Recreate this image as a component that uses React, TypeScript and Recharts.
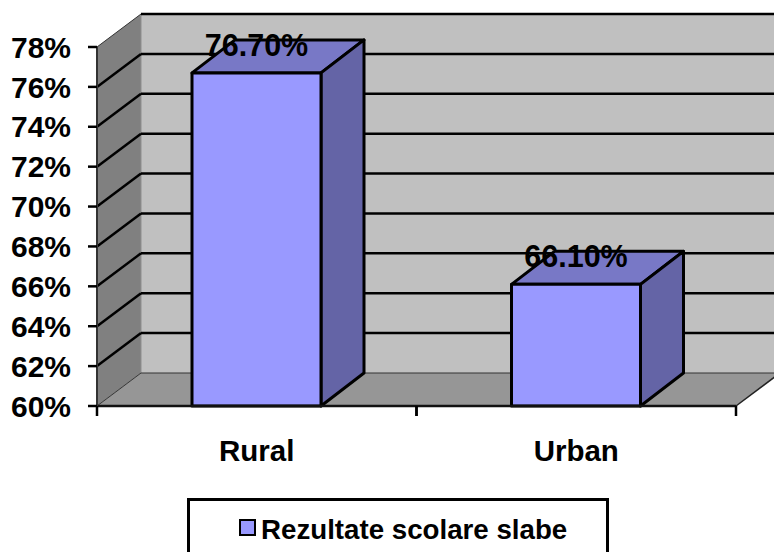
import { Bar, BarChart, CartesianGrid, LabelList, Legend, XAxis, YAxis, usePlotArea } from "recharts";

const categories = ["Rural", "Urban"];
const seriesName = "Rezultate scolare slabe";
const seriesValues = [76.7, 66.1];
const yTicks = [60, 62, 64, 66, 68, 70, 72, 74, 76, 78];

const data = categories.map((name, i) => ({ name, value: seriesValues[i] }));

const FONT = "'Liberation Sans', Arial, sans-serif";
const DX = 44;
const DY = 33;
const BAR_DX = 43;
const PLOT_LEFT = 97;
const PLOT_RIGHT = 736;
const BAND = (PLOT_RIGHT - PLOT_LEFT) / categories.length;

// back wall, side wall and floor of the 3D box
const Walls = () => {
  const plot = usePlotArea();
  if (!plot) return null;
  const l = plot.x;
  const r = plot.x + plot.width;
  const t = plot.y;
  const b = plot.y + plot.height;
  return (
    <g>
      <polygon points={`${l + DX},${t - DY} ${r + DX},${t - DY} ${r + DX},${b - DY} ${l + DX},${b - DY}`} fill="#c0c0c0" />
      <polygon points={`${l},${t} ${l + DX},${t - DY} ${l + DX},${b - DY} ${l},${b}`} fill="#808080" />
      <polygon points={`${l},${b} ${l + DX},${b - DY} ${r + DX},${b - DY} ${r},${b}`} fill="#969696" />
      <line x1={l + DX} y1={t - DY} x2={l + DX} y2={b - DY} stroke="#8e8e8e" strokeWidth={1} />
      <line x1={r} y1={b} x2={r + DX} y2={b - DY} stroke="#222" strokeWidth={1.5} />
    </g>
  );
};

// grid line runs up the side wall and across the back wall
const GridLine = (props: any) => {
  const { x1, x2, y1 } = props;
  const edge = Math.abs(y1 - 47) < 1 || Math.abs(y1 - 406) < 1;
  const isBottom = Math.abs(y1 - 406) < 1;
  return (
    <g>
      <line x1={x1} y1={y1} x2={x1 + DX} y2={y1 - DY} stroke={edge ? "#333" : "#000"} strokeWidth={edge ? 1 : 2.5} />
      <line
        x1={x1 + DX}
        y1={y1 - DY}
        x2={x2 + DX}
        y2={y1 - DY}
        stroke={isBottom ? "#333" : "#000"}
        strokeWidth={isBottom ? 1 : 2.5}
      />
    </g>
  );
};

const Bar3D = (props: any) => {
  const { x, y, width, height } = props;
  const right = x + width;
  const bottom = y + height;
  return (
    <g stroke="#000" strokeWidth={3} strokeLinejoin="round">
      <polygon points={`${x},${y} ${x + BAR_DX},${y - DY} ${right + BAR_DX},${y - DY} ${right},${y}`} fill="#7878c6" />
      <polygon points={`${right},${y} ${right + BAR_DX},${y - DY} ${right + BAR_DX},${bottom - DY} ${right},${bottom}`} fill="#6464a6" />
      <rect x={x} y={y} width={width} height={height} fill="#9999ff" />
    </g>
  );
};

// Excel puts the tick marks between categories, not under them
const CategoryTick = (props: any) => {
  const { x, y, payload } = props;
  return (
    <g>
      <line x1={x - BAND / 2} y1={406} x2={x - BAND / 2} y2={416} stroke="#000" strokeWidth={2.5} />
      <line x1={x + BAND / 2} y1={406} x2={x + BAND / 2} y2={416} stroke="#000" strokeWidth={2.5} />
      <text x={x} y={y} textAnchor="middle" fontFamily={FONT} fontWeight="bold" fontSize={29.5} fill="#000">
        {payload.value}
      </text>
    </g>
  );
};

const LegendBox = ({ payload }: any) => {
  const item = payload?.[0];
  return (
    <div
      style={{
        boxSizing: "border-box",
        width: 422,
        height: 60,
        border: "3px solid #000",
        background: "#fff",
        display: "flex",
        alignItems: "flex-start",
        paddingLeft: 49,
        paddingTop: 13,
        fontFamily: FONT,
        fontWeight: "bold",
        fontSize: 27.7,
        lineHeight: "32px",
        color: "#000",
        whiteSpace: "nowrap",
      }}
    >
      <span
        style={{
          boxSizing: "border-box",
          width: 17,
          height: 17,
          marginTop: 5,
          marginRight: 5,
          border: "2.5px solid #000",
          background: "#9999ff",
        }}
      />
      {item?.value}
    </div>
  );
};

export default function App() {
  return (
    <div style={{ position: "absolute", left: 0, top: 0, width: 774, height: 552, overflow: "hidden", background: "#fff" }}>
      <BarChart
        width={774}
        height={552}
        data={data}
        margin={{ top: 47, right: 38, bottom: 0, left: 0 }}
        barSize={129}
        style={{ overflow: "hidden" }}
      >
        <Walls />
        <CartesianGrid zIndex={1} vertical={false} horizontal={(p: any) => <GridLine key={p.key} {...p} />} />
        <XAxis
          dataKey="name"
          height={146}
          tick={<CategoryTick />}
          tickLine={false}
          tickMargin={49}
          axisLine={{ stroke: "#111", strokeWidth: 2.5 }}
          interval={0}
        />
        <YAxis
          width={97}
          domain={[60, 78]}
          ticks={yTicks}
          interval={0}
          tickFormatter={(v: number) => `${v}%`}
          tickSize={9}
          tickMargin={17}
          tickLine={{ stroke: "#000", strokeWidth: 2.5 }}
          axisLine={{ stroke: "#333", strokeWidth: 2 }}
          tick={{ fill: "#000", fontFamily: FONT, fontWeight: "bold", fontSize: 30 }}
        />
        <Legend
          layout="horizontal"
          verticalAlign="middle"
          content={<LegendBox />}
          wrapperStyle={{ position: "absolute", left: 187, top: 498, width: 422, height: 60, margin: 0 }}
        />
        <Bar dataKey="value" name={seriesName} fill="#9999ff" shape={<Bar3D />} isAnimationActive={false}>
          <LabelList
            dataKey="value"
            position="top"
            offset={17}
            formatter={(v: any) => `${Number(v).toFixed(2)}%`}
            fill="#000"
            fontFamily={FONT}
            fontWeight="bold"
            fontSize={30.5}
          />
        </Bar>
      </BarChart>
    </div>
  );
}
